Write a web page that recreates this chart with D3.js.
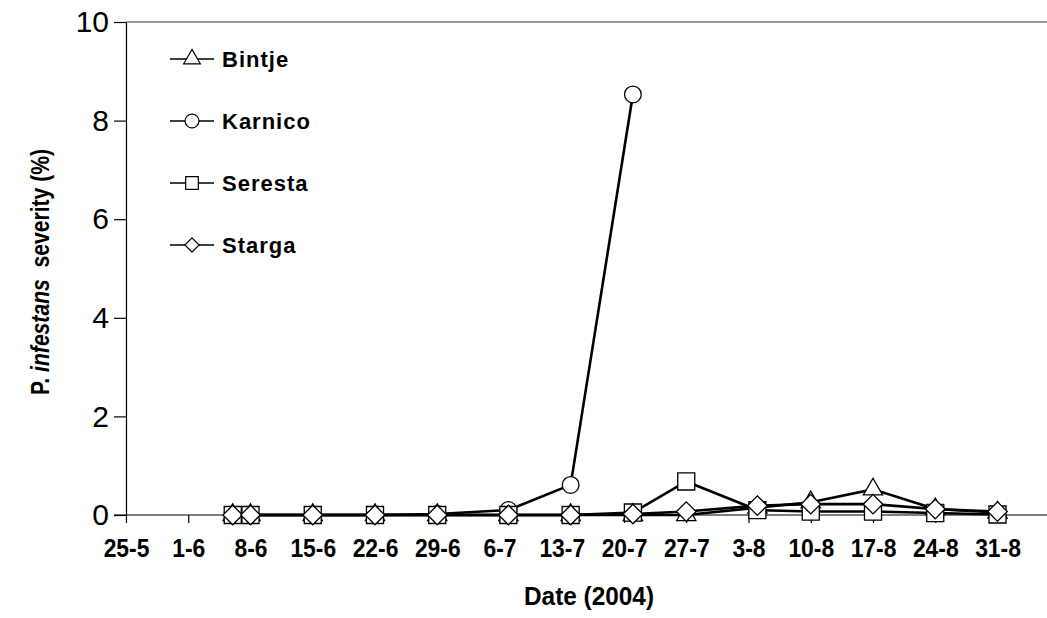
<!DOCTYPE html>
<html>
<head>
<meta charset="utf-8">
<script src="https://cdn.jsdelivr.net/npm/d3@7"></script>
<style>
  body { margin: 0; background: #fff; }
  svg { display: block; font-family: "Liberation Sans", Arial, sans-serif; }
</style>
</head>
<body>
<svg id="chart" width="1047" height="618"></svg>
<script>
// sampling dates (2004)
const dates = ['2004-06-06', '2004-06-08', '2004-06-15', '2004-06-22', '2004-06-29', '2004-07-07', '2004-07-14',
  '2004-07-21', '2004-07-27', '2004-08-04', '2004-08-10', '2004-08-17', '2004-08-24', '2004-08-31'];

const bintje  = [0, 0, 0, 0, 0, 0, 0, 0, 0, 0.15, 0.26, 0.52, 0.12, 0.05];
const karnico = [0, 0, 0, 0, 0.02, 0.1, 0.61, 8.53];
const seresta = [0, 0, 0, 0, 0, 0, 0, 0.05, 0.68, 0.1, 0.07, 0.07, 0.04, 0.01];
const starga  = [0, 0, 0, 0, 0, 0, 0, 0.02, 0.07, 0.19, 0.22, 0.22, 0.12, 0.07];

const seriesNames = ['Bintje', 'Karnico', 'Seresta', 'Starga'];
const yTicks = [0, 2, 4, 6, 8, 10];
const xTickDates = ['2004-05-25', '2004-06-01', '2004-06-08', '2004-06-15', '2004-06-22', '2004-06-29', '2004-07-06',
  '2004-07-13', '2004-07-20', '2004-07-27', '2004-08-03', '2004-08-10', '2004-08-17', '2004-08-24', '2004-08-31'];

const parse = d3.utcParse('%Y-%m-%d');
const fmt = d3.utcFormat('%-d-%-m');

const svg = d3.select('#chart');

const x = d3.scaleUtc()
  .domain([parse('2004-05-25'), parse('2004-08-31')])
  .range([126, 997.5]);
const y = d3.scaleLinear()
  .domain([0, 10])
  .range([515, 22]);

// top border of plot area
svg.append('line')
  .attr('x1', 126).attr('x2', 1047)
  .attr('y1', y(10)).attr('y2', y(10))
  .attr('stroke', '#9a9a9a').attr('stroke-width', 2);

// x axis line to the right edge
svg.append('line')
  .attr('x1', 114).attr('x2', 1047)
  .attr('y1', y(0)).attr('y2', y(0))
  .attr('stroke', '#000').attr('stroke-width', 1.2);

const xAxis = svg.append('g')
  .attr('transform', `translate(0,${y(0)})`)
  .call(d3.axisBottom(x)
    .tickValues(xTickDates.map(parse))
    .tickFormat(fmt)
    .tickSize(8)
    .tickSizeOuter(0)
    .tickPadding(16));
xAxis.select('.domain').remove();
xAxis.selectAll('.tick line').attr('stroke-width', 1.2);
xAxis.selectAll('.tick text')
  .attr('font-size', 26).attr('font-weight', 'bold')
  .attr('font-family', '"Liberation Sans", Arial, sans-serif')
  .attr('fill', '#000')
  .attr('transform', 'scale(0.88,1)');

const yAxis = svg.append('g')
  .attr('transform', 'translate(126,0)')
  .call(d3.axisLeft(y)
    .tickValues(yTicks)
    .tickSize(12)
    .tickSizeOuter(0)
    .tickPadding(5));
yAxis.select('.domain').attr('stroke-width', 1.2);
yAxis.selectAll('.tick line').attr('stroke-width', 1.2);
yAxis.selectAll('.tick text')
  .attr('font-size', 30)
  .attr('font-family', '"Liberation Sans", Arial, sans-serif')
  .attr('fill', '#000');

// axis titles
svg.append('text')
  .attr('x', 589).attr('y', 605)
  .attr('text-anchor', 'middle')
  .attr('font-size', 26).attr('font-weight', 'bold')
  .attr('textLength', 130).attr('lengthAdjust', 'spacingAndGlyphs')
  .text('Date (2004)');

const yt = svg.append('text')
  .attr('transform', 'translate(49,272) rotate(-90)')
  .attr('text-anchor', 'middle')
  .attr('font-size', 25).attr('font-weight', 'bold')
  .attr('textLength', 246).attr('lengthAdjust', 'spacingAndGlyphs')
  .style('white-space', 'pre');
yt.append('tspan').text('P. ');
yt.append('tspan').attr('font-style', 'italic').text('infestans');
yt.append('tspan').text('  severity (%)');

// marker shapes
const shapes = {
  Bintje: d3.symbol(d3.symbolTriangle, 160),
  Karnico: d3.symbol(d3.symbolCircle, 220),
  Seresta: d3.symbol(d3.symbolSquare, 290),
  Starga: d3.symbol(d3.symbolSquare, 190)
};
const rot = { Bintje: 0, Karnico: 0, Seresta: 0, Starga: 45 };
const smallShapes = {
  Bintje: d3.symbol(d3.symbolTriangle, 120),
  Karnico: d3.symbol(d3.symbolCircle, 150),
  Seresta: d3.symbol(d3.symbolSquare, 160),
  Starga: d3.symbol(d3.symbolSquare, 100)
};

const allValues = [bintje, karnico, seresta, starga];

const line = d3.line()
  .x(d => x(d.date))
  .y(d => y(d.value));

seriesNames.forEach((name, i) => {
  const pts = allValues[i].map((v, j) => ({ date: parse(dates[j]), value: v }));
  svg.append('path')
    .datum(pts)
    .attr('fill', 'none')
    .attr('stroke', '#000')
    .attr('stroke-width', 2.6)
    .attr('d', line);
});

seriesNames.forEach((name, i) => {
  const pts = allValues[i].map((v, j) => ({ date: parse(dates[j]), value: v }));
  svg.append('g')
    .selectAll('path')
    .data(pts)
    .join('path')
      .attr('transform', d => `translate(${x(d.date)},${y(d.value)}) rotate(${rot[name]})`)
      .attr('d', shapes[name]())
      .attr('fill', '#fff')
      .attr('stroke', '#000')
      .attr('stroke-width', 1.3);
});

// legend
const legend = svg.append('g');
seriesNames.forEach((name, i) => {
  const ly = 59 + i * 62;
  const g = legend.append('g').attr('transform', `translate(0,${ly})`);
  g.append('line')
    .attr('x1', 170).attr('x2', 214)
    .attr('y1', 0).attr('y2', 0)
    .attr('stroke', '#000').attr('stroke-width', 1.5);
  g.append('path')
    .attr('transform', `translate(192,0) rotate(${rot[name]})`)
    .attr('d', smallShapes[name]())
    .attr('fill', '#fff')
    .attr('stroke', '#000')
    .attr('stroke-width', 1.2);
  g.append('text')
    .attr('x', 222).attr('y', 8)
    .attr('font-size', 22).attr('font-weight', 'bold')
    .attr('letter-spacing', 1)
    .text(name);
});
</script>
</body>
</html>
